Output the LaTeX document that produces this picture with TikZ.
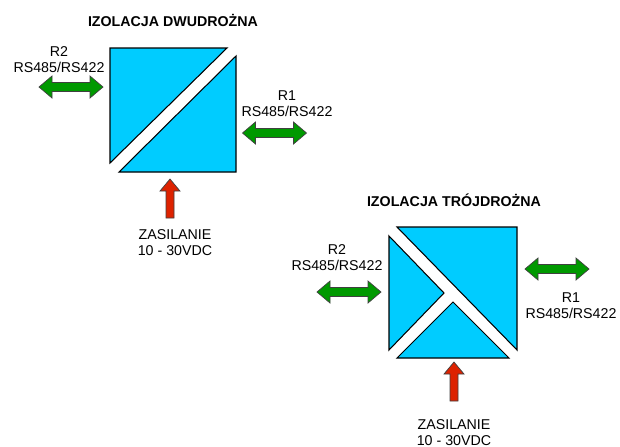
\documentclass[tikz,border=0pt]{standalone}
\usepackage{fontspec}
\setmainfont{Liberation Sans}
\usetikzlibrary{positioning}
\definecolor{blok}{RGB}{0,204,255}
\definecolor{zielony}{RGB}{0,153,0}
\definecolor{czerwony}{RGB}{221,34,0}
\tikzset{%
  piece/.style={draw=black,line width=0.6pt,fill=blok},
  biarrow/.style={draw=black!75,line width=0.4pt,fill=zielony},
  powarrow/.style={draw=black!75,line width=0.4pt,fill=czerwony},
  lbl/.style={align=center,inner sep=0pt,anchor=base,font=\fontsize{8.1}{8.8}\selectfont},
  heading/.style={lbl,font=\fontsize{8.1}{8.8}\selectfont\bfseries},
  pics/databus/.style={code={%
    \path[biarrow] (-32,0) -- (-19,-11) -- (-19,-4.5) -- (19,-4.5) -- (19,-11) -- (32,0)
      -- (19,11) -- (19,4.5) -- (-19,4.5) -- (-19,11) -- cycle;}},
  pics/supply/.style={code={%
    \path[powarrow] (0,0) -- (10,12) -- (4,12) -- (4,39) -- (-4,39) -- (-4,12) -- (-10,12) -- cycle;}}
}

\begin{document}
\begin{tikzpicture}[x=0.02cm,y=-0.02cm]
    \useasboundingbox[fill=white] (0,0) rectangle (620,447);

    % Two-way isolation
    \node[heading] (t1) at (173,26) {IZOLACJA DWUDROŻNA};
    \path[piece] (110,48) -- (227,48) -- (110,163) -- cycle;
    \path[piece] (236,56) -- (236,172) -- (119,172) -- cycle;

    \pic at (71,87) {databus};
    \pic at (274.5,133) {databus};
    \pic at (170,179) {supply};

    % base of a two-line node = last line
    \node[lbl] (r2a) at (59,72) {R2\\RS485/RS422};
    \node[lbl] (r1a) at (287,116) {R1\\RS485/RS422};
    \node[lbl] (pa) at (175,255) {ZASILANIE\\10 - 30VDC};

    % Three-way isolation
    \node[heading] (t2) at (454,206) {IZOLACJA TRÓJDROŻNA};
    \path[piece] (397,227) -- (517,227) -- (517,350) -- cycle;
    \path[piece] (389,236) -- (444,293) -- (389,350) -- cycle;
    \path[piece] (397,358) -- (453,302) -- (509,358) -- cycle;

    \pic at (349,292) {databus};
    \pic at (557,269) {databus};
    \pic at (454,362) {supply};

    \node[lbl] (r2b) at (337,270) {R2\\RS485/RS422};
    \node[lbl] (r1b) at (571,318) {R1\\RS485/RS422};
    \node[lbl] (pb) at (454,445) {ZASILANIE\\10 - 30VDC};
\end{tikzpicture}
\end{document}
